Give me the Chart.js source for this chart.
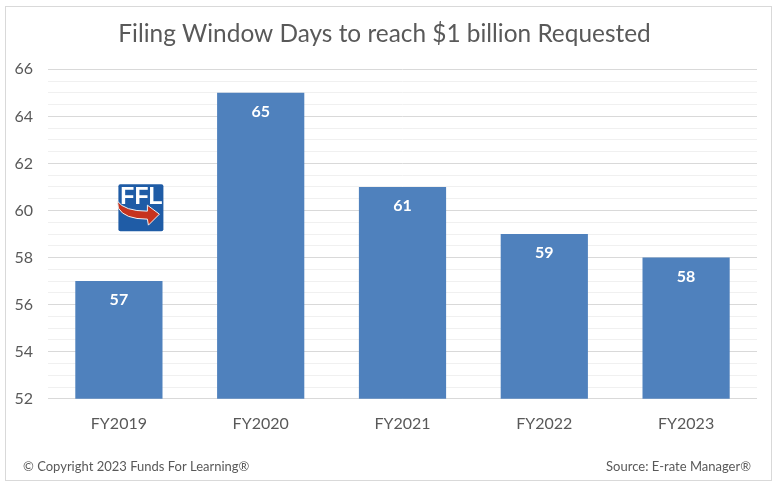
<!DOCTYPE html>
<html>
<head>
    <meta charset="utf-8">
    <title>Filing Window Days</title>
    <style>
        body { margin: 0; background: #fff; }
        .container { width: 779px; height: 491px; position: relative; }
    </style>
</head>
<body>
    <div class="container">
        <canvas id="chart"></canvas>
    </div>

    <script src="https://cdn.jsdelivr.net/npm/chart.js"></script>
    <script>
        // data
        const years = ['FY2019', 'FY2020', 'FY2021', 'FY2022', 'FY2023'];
        const days = [57, 65, 61, 59, 58];
        const yMin = 52;
        const yMax = 66;

        const FONT = 'Lato, "Liberation Sans", sans-serif';
        const GREY = '#595959';

        // outer frame + footer texts
        const framePlugin = {
            id: 'frame',
            beforeDraw(chart) {
                const c = chart.ctx;
                c.save();
                c.fillStyle = '#fff';
                c.fillRect(0, 0, chart.width, chart.height);
                c.strokeStyle = '#d9d9d9';
                c.lineWidth = 1;
                c.strokeRect(5.5, 6.5, 766, 474);
                c.restore();
            },
            afterDraw(chart) {
                const c = chart.ctx;
                c.save();
                c.fillStyle = GREY;
                c.font = '13px ' + FONT;
                c.textBaseline = 'middle';
                c.textAlign = 'left';
                c.fillText('\u00A9 Copyright 2023 Funds For Learning\u00AE', 23, 467);
                c.textAlign = 'right';
                c.fillText('Source: E-rate Manager\u00AE', 751, 467);
                c.restore();
            }
        };

        // white value labels inside the bars
        const valueLabels = {
            id: 'valueLabels',
            afterDatasetsDraw(chart) {
                const c = chart.ctx;
                const meta = chart.getDatasetMeta(0);
                c.save();
                c.fillStyle = '#fff';
                c.font = 'bold 16px ' + FONT;
                c.textAlign = 'center';
                c.textBaseline = 'middle';
                meta.data.forEach((bar, i) => {
                    c.fillText(days[i], bar.x, bar.y + 19);
                });
                c.restore();
            }
        };

        // small FFL logo next to the first bar
        const logoPlugin = {
            id: 'logo',
            afterDraw(chart) {
                const c = chart.ctx;
                const x0 = chart.scales.x.getPixelForValue(0) - 0.5;
                const y0 = chart.scales.y.getPixelForValue(61.12);
                const w = 45, h = 47;
                c.save();
                c.fillStyle = '#1f5ca6';
                c.beginPath();
                c.roundRect(x0, y0, w, h, 2);
                c.fill();
                c.fillStyle = '#fff';
                c.font = 'bold 23px "Liberation Sans Narrow", "Liberation Sans", sans-serif';
                c.textAlign = 'center';
                c.textBaseline = 'alphabetic';
                c.fillText('FFL', x0 + w / 2 + 0.5, y0 + 20);
                // red arrow
                c.fillStyle = '#c7331d';
                c.strokeStyle = '#f2f2f2';
                c.lineWidth = 1;
                c.beginPath();
                c.moveTo(x0 - 1, y0 + 17);
                c.quadraticCurveTo(x0 + 6, y0 + 27, x0 + 29, y0 + 27);
                c.lineTo(x0 + 29, y0 + 21);
                c.lineTo(x0 + 41, y0 + 30);
                c.lineTo(x0 + 30, y0 + 41);
                c.lineTo(x0 + 29, y0 + 35);
                c.quadraticCurveTo(x0 + 6, y0 + 35, x0, y0 + 24);
                c.closePath();
                c.fill();
                c.stroke();
                c.restore();
            }
        };

        const ctx = document.getElementById('chart').getContext('2d');
        const chart = new Chart(ctx, {
            type: 'bar',
            data: {
                labels: years,
                datasets: [{
                    data: days,
                    backgroundColor: '#4f81bd',
                    borderWidth: 0,
                    categoryPercentage: 1,
                    barPercentage: 0.615
                }]
            },
            options: {
                responsive: true,
                maintainAspectRatio: false,
                animation: false,
                layout: { padding: { left: 12, right: 22, top: 20, bottom: 51 } },
                plugins: {
                    legend: { display: false },
                    tooltip: { enabled: false },
                    title: {
                        display: true,
                        text: 'Filing Window Days to reach $1 billion Requested',
                        color: GREY,
                        font: { family: FONT, size: 24.4, weight: 'normal' },
                        padding: { top: 0, bottom: 20 }
                    }
                },
                scales: {
                    x: {
                        grid: { display: false },
                        border: { display: false },
                        ticks: { color: GREY, font: { family: FONT, size: 16 }, padding: 7 }
                    },
                    y: {
                        min: yMin,
                        max: yMax,
                        border: { display: false },
                        afterFit: (s) => { s.width = 36; },
                        grid: {
                            drawTicks: false,
                            color: (c) => (c.tick && c.tick.value % 2 === 0) ? '#d9d9d9' : '#f0f0f0'
                        },
                        ticks: {
                            stepSize: 0.5,
                            autoSkip: false,
                            maxTicksLimit: 100,
                            color: GREY,
                            padding: 15,
                            font: { family: FONT, size: 16 },
                            callback: (v) => (v % 2 === 0 ? v : '')
                        }
                    }
                }
            },
            plugins: [framePlugin, valueLabels, logoPlugin]
        });
    </script>
</body>
</html>
